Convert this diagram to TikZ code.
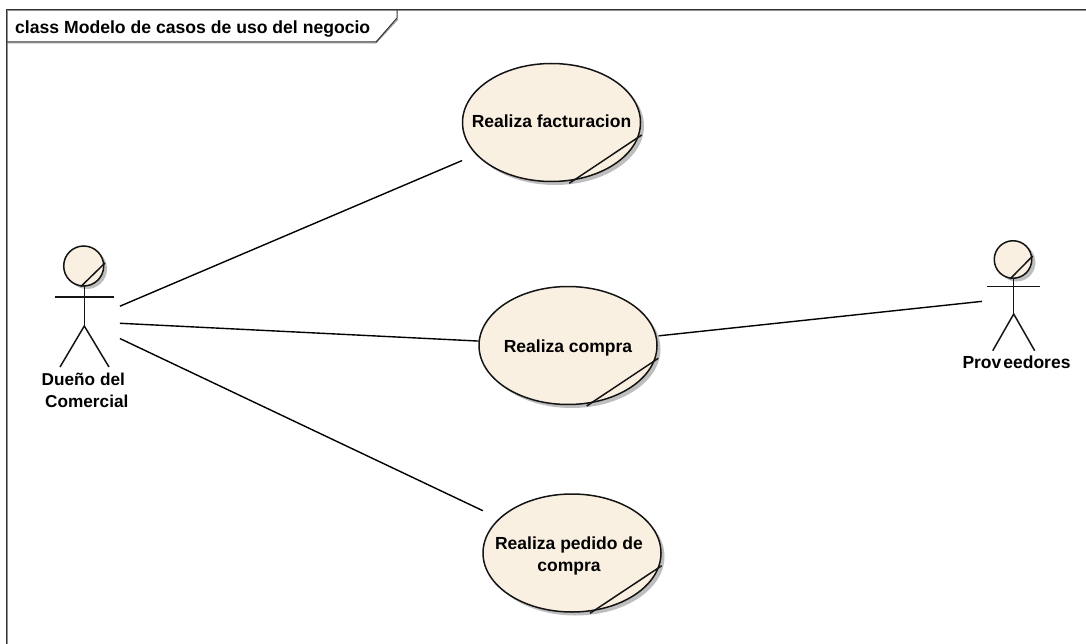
\documentclass[tikz,border=0pt]{standalone}
\usepackage{fontspec}
\setmainfont{Liberation Sans}
\usetikzlibrary{shapes.geometric}
\definecolor{ucfill}{HTML}{F9F0E2}
\definecolor{shadowgray}{HTML}{BEBEBE}
\definecolor{framegray}{HTML}{909090}
\newcommand\uctext[3][0pt]{\raisebox{#2}{\smash{\makebox[0pt]{\hspace*{#1}#3}}}}
\tikzset{
  ink/.style={draw=black!92,line width=1.5pt},
  usecase/.style={ellipse,ink,fill=ucfill,minimum width=178pt,minimum height=118pt,inner sep=0pt,align=center,
    font=\fontsize{17.5}{21.5}\selectfont\bfseries},
  casesh/.style={ellipse,fill=shadowgray,minimum width=178pt,minimum height=118pt,inner sep=0pt},
  head/.style={circle,ink,fill=ucfill,inner sep=0pt},
  headsh/.style={circle,fill=shadowgray,inner sep=0pt},
  actorlabel/.style={align=center,inner sep=0pt,font=\fontsize{17.2}{21.5}\selectfont\bfseries},
  framelabel/.style={anchor=west,inner sep=0pt,font=\fontsize{17.6}{18}\selectfont\bfseries},
  assoc/.style={draw=black,line width=1.4pt},
  frameline/.style={draw=black!80,line width=1pt},
  frameshade/.style={draw=framegray,line width=1pt}
}
\begin{document}
\begin{tikzpicture}[x=1pt,y=-1pt]
\useasboundingbox (0,0) rectangle (1086,644);
% frame
\draw[frameshade] (7,644) -- (7,11) -- (1086,11);
\draw[frameshade] (6,43) -- (376,43) -- (398,19);
\draw[frameline] (6,644) -- (6,10) -- (1086,10);
\draw[frameline] (6,42) -- (376,42) -- (397,18) -- (397,10);
\node[framelabel] (title) at (15,28.5) {class Modelo de casos de uso del negocio};
% shadows
\node[casesh] (s1) at (555,126) {};
\node[casesh] (s2) at (571.5,349) {};
\node[casesh] (s3) at (575.5,556.5) {};
\node[headsh,minimum size=40pt] (hs1) at (87,269) {};
\node[headsh,minimum size=38pt] (hs2) at (1016.5,262.5) {};
% actor centres
\coordinate (actorA) at (84,321.5);
\coordinate (actorB) at (1013.5,298);
% use cases
\node[usecase] (uc1) at (551.5,122.5) {\uctext{-11pt}{Realiza facturacion}};
\node[usecase] (uc2) at (568,345.5) {\uctext{-13pt}{Realiza compra}};
\node[usecase] (uc3) at (572,553) {\uctext[-6pt]{-9.5pt}{\raisebox{-3pt}{\begin{tabular}{@{}c@{}}Realiza pedido de\\compra\end{tabular}}}};
% note folds
\draw[ink] (641.7,135) -- (569.3,183.3);
\draw[ink] (658.3,358.3) -- (586.7,406);
\draw[ink] (661.7,565.7) -- (590,613.3);
% actor A
\node[head,minimum size=40pt] (headA) at (83.7,266) {};
\draw[ink] (105,263) -- (80.7,286.7);
\draw[ink] (54.7,297) -- (114,297);
\draw[ink] (84.3,286) -- (84.3,326);
\draw[ink] (60,367) -- (84.3,326) -- (109,367);
\node[actorlabel] (labelA) at (83.3,390.5) {Dueño del\\\hspace*{7pt}Comercial};
% actor B
\node[head,minimum size=37.5pt] (headB) at (1013,259.5) {};
\draw[ink] (1032.7,256) -- (1010,279);
\draw[ink] (987.3,286.7) -- (1040,286.7);
\draw[ink] (1013.7,278) -- (1013.7,314);
\draw[ink] (992.7,350.7) -- (1013.7,314) -- (1034.7,350.7);
\node[actorlabel,font=\fontsize{17.5}{21.5}\selectfont\bfseries] (labelB) at (1016.5,362) {Prov\kern2pt eedores};
% connectors
\draw[assoc,shorten <=39pt,shorten >=15pt] (actorA) -- (uc1);
\draw[assoc,shorten <=36pt] (actorA) -- (uc2);
\draw[assoc,shorten <=39.8pt,shorten >=17.8pt] (actorA) -- (uc3);
\draw[assoc,shorten <=2pt,shorten >=31.7pt] (uc2) -- (actorB);
\end{tikzpicture}
\end{document}
